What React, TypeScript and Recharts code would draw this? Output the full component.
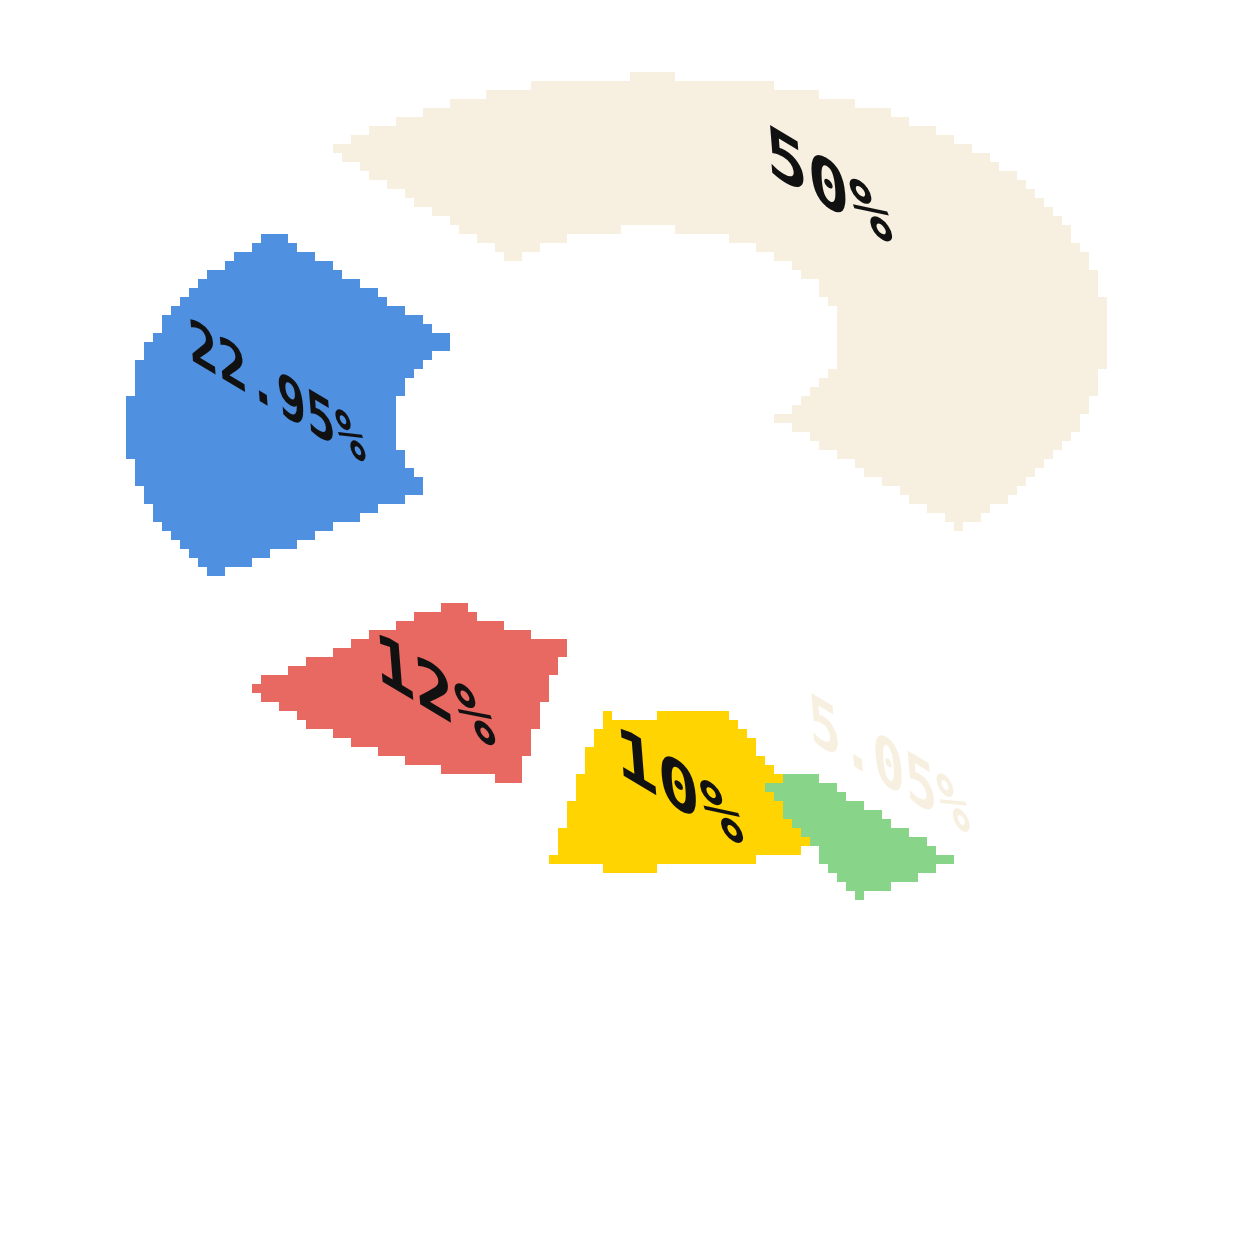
import { PieChart, Pie, Cell } from 'recharts';

const names = ['Slice A', 'Slice B', 'Slice C', 'Slice D', 'Slice E'];
const shares = [50, 22.95, 12, 10, 5.05];

const colors = ['#F7F0E0', '#5090E0', '#E86862', '#FFD400', '#88D488'];
const labelColors = ['#111111', '#111111', '#111111', '#111111', '#F7F0E0'];
// explode offsets and per-slice scale (pie units), label nudges (screen px) and label scales
const explode = [[-12.8, -60], [-15.3, -26.9], [1.8, 10.8], [16, 37.3], [29, 61.9]];
const sliceScale = [1, 1, 0.94, 1, 0.82];
const labelNudge = [[-57, -24], [14.5, -14.5], [-0.5, 2.5], [0.5, -4.5], [42, -66.5]];
const labelScale = [[1.74, 1.71], [1.22, 1.5], [1.66, 1.71], [1.76, 1.71], [1.33, 1.71]];

const W = 1248;
const H = 1240;
const CX = 620;
const CY = 500;
const INNER = 42;
const OUTER = 100;
const START = -30;
const [A, B, C, D] = [4.42, 0.72, -1.36, 2.53];

const data = names.map((name, i) => ({ name, value: shares[i] }));
const pieMatrix = `matrix(${A},${B},${C},${D},${CX - A * CX - C * CY},${CY - B * CX - D * CY})`;
const RAD = Math.PI / 180;
const total = shares.reduce((s, v) => s + v, 0);

const midAngles = shares.map((v, i) => {
  const before = shares.slice(0, i).reduce((s, x) => s + x, 0);
  return START + (360 * (before + v / 2)) / total;
});

const sliceTransform = (i: number) => {
  const r = (INNER + OUTER) / 2;
  const mx = CX + r * Math.cos(-midAngles[i] * RAD);
  const my = CY + r * Math.sin(-midAngles[i] * RAD);
  const s = sliceScale[i];
  return `${pieMatrix} translate(${explode[i][0]},${explode[i][1]}) translate(${mx},${my}) scale(${s}) translate(${-mx},${-my})`;
};

const toScreen = (x: number, y: number) => {
  const dx = x - CX;
  const dy = y - CY;
  return [CX + A * dx + C * dy, CY + B * dx + D * dy];
};

const renderLabel = (props: any) => {
  let i = typeof props.index === 'number' ? props.index : names.indexOf(props.name);
  if (i < 0) i = 0;
  const r = (props.innerRadius + props.outerRadius) / 2;
  const px = props.cx + explode[i][0] + r * Math.cos(-props.midAngle * RAD);
  const py = props.cy + explode[i][1] + r * Math.sin(-props.midAngle * RAD);
  const [sx, sy] = toScreen(px, py);
  const [kx, ky] = labelScale[i];
  return (
    <text
      key={`lbl-${i}`}
      transform={`translate(${sx + labelNudge[i][0]},${sy + labelNudge[i][1]}) matrix(${kx},${kx * 0.6},${ky * 0.08},${ky},0,0)`}
      x={0}
      y={0}
      textAnchor="middle"
      dominantBaseline="central"
      fill={labelColors[i]}
      fontFamily="'DejaVu Sans Mono', monospace"
      fontWeight="bold"
      fontSize={40}
    >
      {`${shares[i]}%`}
    </text>
  );
};

const pieProps = {
  data,
  dataKey: 'value',
  nameKey: 'name',
  cx: CX,
  cy: CY,
  innerRadius: INNER,
  outerRadius: OUTER,
  startAngle: START,
  endAngle: START + 360,
  stroke: 'none',
  isAnimationActive: false,
};

export default function App() {
  return (
    <div style={{ position: 'absolute', left: 0, top: 0, width: W, height: H, background: '#ffffff' }}>
      <style>{'.pie-pixel path { shape-rendering: crispEdges; }'}</style>
      <svg width={0} height={0} style={{ position: 'absolute' }}>
        <defs>
          <filter
            id="pixelate"
            filterUnits="userSpaceOnUse"
            primitiveUnits="userSpaceOnUse"
            colorInterpolationFilters="sRGB"
            x={0}
            y={0}
            width={W}
            height={H}
          >
            <feFlood x={4} y={4} width={1} height={1} floodColor="#000" />
            <feComposite x={0} y={0} width={9} height={9} />
            <feTile result="grid" />
            <feComposite in="SourceGraphic" in2="grid" operator="in" />
            <feMorphology operator="dilate" radius={4} />
          </filter>
        </defs>
      </svg>
      <div style={{ position: 'absolute', left: 0, top: 0, width: W, height: H, filter: 'url(#pixelate)' }}>
        <PieChart width={W} height={H} margin={{ top: 0, right: 0, bottom: 0, left: 0 }}>
          <Pie className="pie-pixel" {...pieProps}>
            {data.map((d, i) => (
              <Cell key={d.name} fill={colors[i]} transform={sliceTransform(i)} />
            ))}
          </Pie>
        </PieChart>
      </div>
      <div style={{ position: 'absolute', left: 0, top: 0, width: W, height: H }}>
        <PieChart width={W} height={H} margin={{ top: 0, right: 0, bottom: 0, left: 0 }}>
          <Pie {...pieProps} fill="none" label={renderLabel} labelLine={false} />
        </PieChart>
      </div>
    </div>
  );
}
